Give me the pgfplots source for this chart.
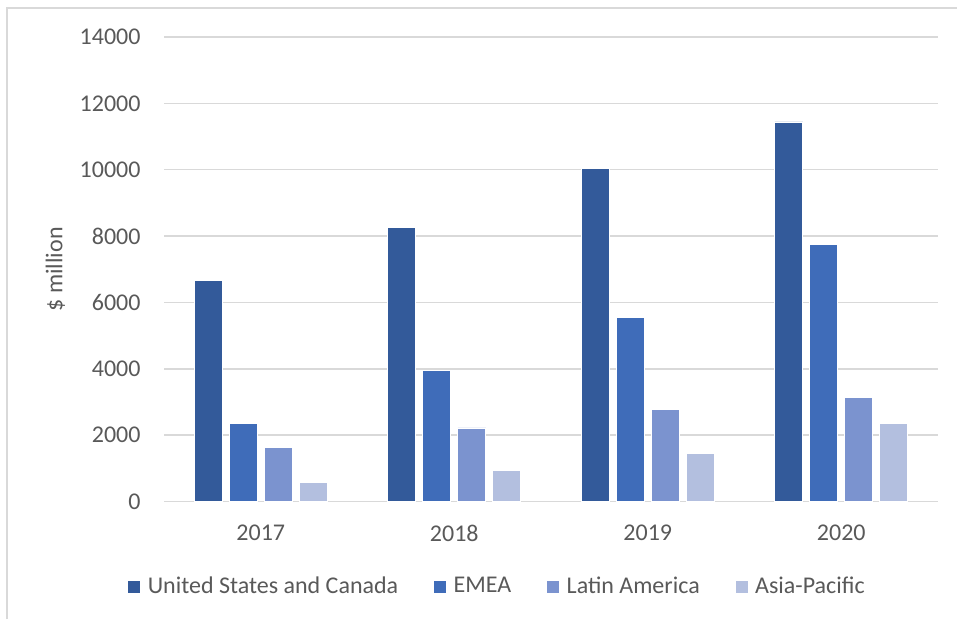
\documentclass[border=0pt]{standalone}
\usepackage{fontspec}
\setmainfont{Carlito}
\usepackage{pgfplots}
\pgfplotsset{compat=1.18}
\definecolor{cA}{HTML}{335A9A}
\definecolor{cB}{HTML}{3F6CB9}
\definecolor{cC}{HTML}{7B93CF}
\definecolor{cD}{HTML}{B3BFDF}
\definecolor{txt}{HTML}{595959}
\definecolor{grd}{HTML}{D9D9D9}
\begin{document}
\fontsize{24pt}{28pt}\selectfont
\begin{tikzpicture}
\path[use as bounding box] (0pt,0pt) rectangle (957pt,619pt);
\draw[grd, line width=1.5pt] (7pt,0pt) -- (7pt,611pt) -- (957pt,611pt);
\begin{axis}[
  at={(164pt,117.5pt)}, anchor=south west,
  scale only axis, width=774pt, height=464.5pt,
  ybar=7pt, bar width=28pt,
  xmin=-0.5, xmax=3.5, ymin=0, ymax=14000,
  xtick={0,1,2,3}, xticklabels={2017,2018,2019,2020},
  ytick={0,2000,4000,6000,8000,10000,12000,14000},
  scaled y ticks=false,
  axis line style={draw=none},
  major tick length=0pt,
  ymajorgrids, grid style={grd, line width=1.5pt},
  /pgf/number format/assume math mode=true,
  /pgf/number format/1000 sep={},
  yticklabel={\pgfmathprintnumber[fixed,precision=0,1000 sep={}]{\tick}},
  ticklabel style={font=\fontsize{24pt}{28pt}\selectfont, text=txt},
  yticklabel style={inner sep=0pt, xshift=-23.3pt},
  xticklabel style={inner sep=0pt, yshift=-23.5pt},
  ylabel={\$ million},
  ylabel style={font=\fontsize{24pt}{28pt}\selectfont, text=txt, at={(axis description cs:-0.1402,0.5)}, anchor=center},
  legend columns=4,
  legend style={draw=none, fill=none, font=\fontsize{24pt}{28pt}\selectfont, text=txt,
    at={(axis description cs:0.4335,-0.184)}, anchor=center,
    /tikz/every even column/.append style={column sep=28pt},
    nodes={inner xsep=7pt}},
  legend image code/.code={\fill[#1] (0pt,-6.4pt) rectangle (12.8pt,6.4pt);},
]
\addplot[fill=cA, draw=white, line width=0.6pt] coordinates {(0,6660) (1,8270) (2,10050) (3,11440)};
\addplot[fill=cB, draw=white, line width=0.6pt] coordinates {(0,2350) (1,3950) (2,5540) (3,7760)};
\addplot[fill=cC, draw=white, line width=0.6pt] coordinates {(0,1630) (1,2220) (2,2785) (3,3145)};
\addplot[fill=cD, draw=white, line width=0.6pt] coordinates {(0,570) (1,935) (2,1460) (3,2360)};
\legend{United States and Canada, EMEA, Latin America, Asia-Pacific}
\end{axis}
\end{tikzpicture}
\end{document}
